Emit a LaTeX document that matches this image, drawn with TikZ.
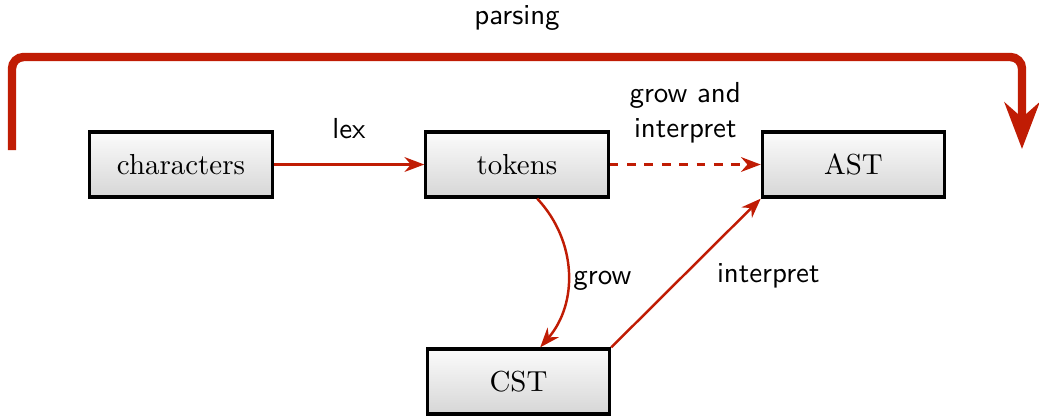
\documentclass[tikz,border=0pt]{standalone}
\usetikzlibrary{arrows.meta}
\definecolor{flowred}{RGB}{192,28,4}
\begin{document}
\begin{tikzpicture}[x=0.3455pt,y=-0.3455pt,
  stage/.style={draw=black, line width=1.1pt, top color=gray!3, bottom color=gray!32,
    minimum width=63pt, minimum height=22.5pt, inner sep=0pt, font=\rmfamily},
  flow/.style={draw=flowred, line width=0.85pt, -{Stealth}},
  lbl/.style={font=\sffamily, text=black, align=center}]
  \useasboundingbox (0,0) rectangle (1039,417);

  % processing stages
  \node[stage] (chars)  at (181,164.5) {characters};
  \node[stage] (tokens) at (517,164.5) {tokens};
  \node[stage] (ast)    at (853.5,164.5) {AST};
  \node[stage] (cst)    at (518.5,381.5) {CST};

  % connectors between stages
  \draw[flow] (chars) -- node[lbl, above=5pt] {lex} (tokens);
  \draw[flow, dashed] (tokens) -- node[lbl, above=3.7pt, text width=60pt] {grow and\\[0pt]interpret} (ast);
  \draw[flow] ([xshift=7pt]tokens.south) to[bend left=42]
     node[lbl, right=-1.8pt, pos=0.55] {grow} ([xshift=7.5pt]cst.north);
  \draw[flow] (cst.north east) -- node[lbl, right=8pt, pos=0.48] {interpret} (ast.south west);

  % overall parsing bracket
  \coordinate (pstart) at (12,150);
  \coordinate (pend)   at (1022,149);
  \draw[draw=flowred, line width=2.9pt, rounded corners=4pt, -{Stealth}]
    (pstart) -- (12,57) -- node[lbl, above=4.5pt] {parsing} (1022,57) -- (pend);
\end{tikzpicture}
\end{document}
